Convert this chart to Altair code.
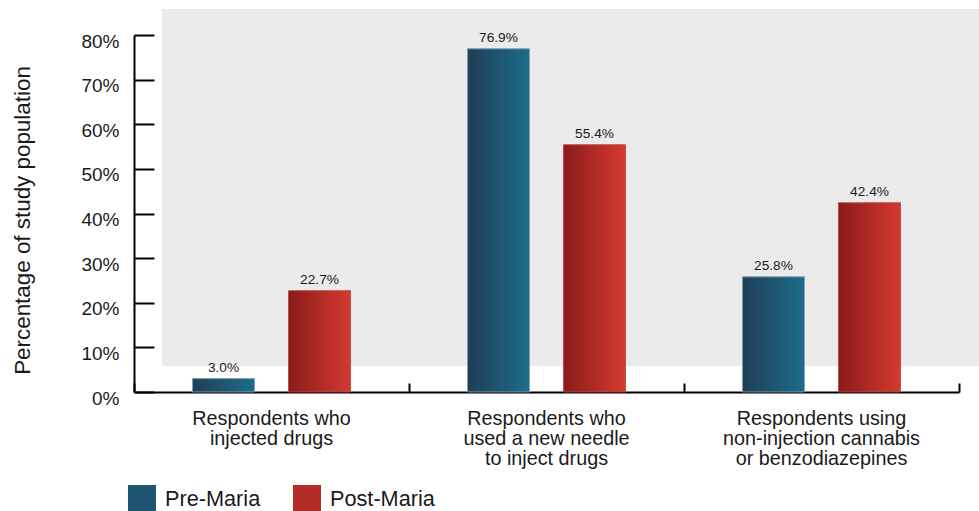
import altair as alt
import pandas as pd

# Survey categories (line breaks split the axis labels)
categories = [
    "Respondents who\ninjected drugs",
    "Respondents who\nused a new needle\nto inject drugs",
    "Respondents using\nnon-injection cannabis\nor benzodiazepines",
]
series = ["Pre-Maria", "Post-Maria"]
pre_values = [3.0, 76.9, 25.8]
post_values = [22.7, 55.4, 42.4]
y_ticks = [0, 10, 20, 30, 40, 50, 60, 70, 80]

rows = []
for cat, pre, post in zip(categories, pre_values, post_values):
    rows.append({"category": cat, "series": "Pre-Maria", "value": pre})
    rows.append({"category": cat, "series": "Post-Maria", "value": post})
df = pd.DataFrame(rows)

W, H = 825, 357
FONT = "Liberation Sans"
TEXT = "#1a1a1a"

grad_pre = {
    "gradient": "linear", "x1": 0, "y1": 0, "x2": 1, "y2": 0,
    "stops": [{"offset": 0, "color": "#1f3f56"}, {"offset": 1, "color": "#1d6c8b"}],
}
grad_post = {
    "gradient": "linear", "x1": 0, "y1": 0, "x2": 1, "y2": 0,
    "stops": [{"offset": 0, "color": "#8a1b1c"}, {"offset": 1, "color": "#d43a30"}],
}

x_enc_args = dict(sort=categories, scale=alt.Scale(paddingInner=0, paddingOuter=0))
xoff = alt.XOffset("series:N", sort=series,
                   scale=alt.Scale(paddingInner=0.354, paddingOuter=0.609))
y_scale = alt.Scale(domain=[0, 80], nice=False)
is_pre = alt.datum.series == "Pre-Maria"

# shaded backdrop panel
backdrop = alt.Chart(pd.DataFrame({"panel": [0]})).mark_rect(color="#ebebeb").encode(
    x=alt.value(28), x2=alt.value(850), y=alt.value(-26), y2=alt.value(331)
)

base = alt.Chart(df)

bars_solid = base.mark_bar().encode(
    x=alt.X("category:N", title=None, **x_enc_args,
            axis=alt.Axis(labelExpr="split(datum.label, '\\n')", labelAngle=0,
                          labelFontSize=19.8, labelLineHeight=20, labelColor=TEXT,
                          labelPadding=16, labelLimit=0, ticks=False, tickSize=0,
                          domainColor="black", domainWidth=2)),
    xOffset=xoff,
    y=alt.Y("value:Q", scale=y_scale,
            axis=alt.Axis(values=y_ticks, labelExpr="datum.value + '%'",
                          labelFontSize=19, labelColor=TEXT, labelPadding=15,
                          labelOffset=6,
                          ticks=False, tickSize=0, domainColor="black", domainWidth=2,
                          title="Percentage of study population", titleFontSize=22.4,
                          titleFontWeight="normal", titleColor=TEXT,
                          titleX=-112, titleY=185, titleAlign="center",
                          titleBaseline="middle", titleAngle=270)),
    color=alt.Color("series:N", sort=series,
                    scale=alt.Scale(domain=series, range=["#1f5571", "#b52c27"]),
                    legend=alt.Legend(title=None, orient="none", legendX=-6, legendY=450,
                                      direction="horizontal", symbolType="square",
                                      symbolSize=784, symbolStrokeWidth=0,
                                      labelFontSize=21.7, labelColor=TEXT, labelOffset=9,
                                      labelLimit=0, columnPadding=32, padding=0)),
)

bars_grad = base.mark_bar().encode(
    x=alt.X("category:N", axis=None, **x_enc_args),
    xOffset=xoff,
    y=alt.Y("value:Q", scale=y_scale, axis=None),
    fill=alt.condition(is_pre, alt.value(grad_pre), alt.value(grad_post)),
    stroke=alt.condition(is_pre, alt.value("#8eaebf"), alt.value("#c04a42")),
    strokeWidth=alt.value(0.8),
)

labels = base.mark_text(baseline="alphabetic", dy=-7, fontSize=13.7, color=TEXT).transform_calculate(
    label="format(datum.value, '.1f') + '%'"
).encode(
    x=alt.X("category:N", **x_enc_args,
            axis=alt.Axis(orient="top", offset=-H, labels=False, title=None,
                          tickBand="extent", tickSize=9, tickWidth=2, tickColor="black",
                          domain=False, grid=False)),
    xOffset=xoff,
    y=alt.Y("value:Q", scale=y_scale,
            axis=alt.Axis(orient="right", offset=-W, values=y_ticks, labels=False,
                          title=None, tickSize=20, tickWidth=2, tickColor="black",
                          domain=False, grid=False)),
    text="label:N",
)

chart = alt.layer(backdrop, bars_solid, bars_grad, labels).resolve_axis(
    x="independent", y="independent"
).properties(
    width=W, height=H,
    autosize=alt.AutoSizeParams(type="none"),
    padding={"left": 134, "top": 35, "right": 20, "bottom": 119},
).configure(font=FONT).configure_view(stroke=None).configure_axis(grid=False)

chart.save("out.html", embed_options={"renderer": "svg", "actions": False})
